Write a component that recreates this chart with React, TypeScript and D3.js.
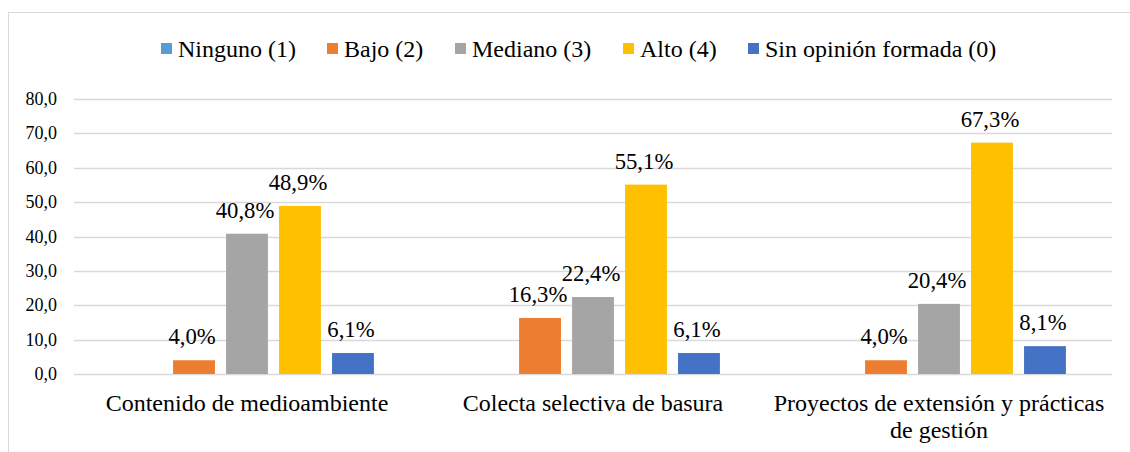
import * as d3 from 'd3'

const categories = [
    'Contenido de medioambiente',
    'Colecta selectiva de basura',
    'Proyectos de extensión y prácticas de gestión'
]
const seriesNames = ['Ninguno (1)', 'Bajo (2)', 'Mediano (3)', 'Alto (4)', 'Sin opinión formada (0)']
const seriesColors = ['#5B9BD5', '#ED7D31', '#A5A5A5', '#FFC000', '#4472C4']

// values per series, one per category
const ninguno = [0, 0, 0]
const bajo = [4.0, 16.3, 4.0]
const mediano = [40.8, 22.4, 20.4]
const alto = [48.9, 55.1, 67.3]
const sinOpinion = [6.1, 6.1, 8.1]
const seriesValues = [ninguno, bajo, mediano, alto, sinOpinion]

const yTicks = [0, 10, 20, 30, 40, 50, 60, 70, 80]

// category labels are split over lines as in the original
const categoryLines = [
    ['Contenido de medioambiente'],
    ['Colecta selectiva de basura'],
    ['Proyectos de extensión y prácticas', 'de gestión']
]

const W = 1130
const H = 452
const FONT = 'Times New Roman'
const margin = { left: 74, right: 18, top: 99, bottom: 78 }

const comma = (v: number) => d3.format('.1f')(v).replace('.', ',')

// legend text widths at 24px (Times metrics)
const legendWidths = [117, 79, 119, 76, 230]

const x0 = d3.scaleBand<string>()
    .domain(categories)
    .range([margin.left, W - margin.right])

const x1 = d3.scaleBand<string>()
    .domain(seriesNames)
    .range([0, x0.bandwidth()])
    .paddingInner(0.21)
    .paddingOuter(0.87)

const y = d3.scaleLinear()
    .domain([0, 80])
    .range([H - margin.bottom, margin.top])

const App = () => {
    let lx = 161
    const legendItems = seriesNames.map((name, si) => {
        const item = { name, color: seriesColors[si], x: lx }
        lx += 17 + legendWidths[si] + 32
        return item
    })

    return (
        <div style={{ fontFamily: FONT }}>
            <svg width={W} height={H} style={{ position: 'absolute', left: 0, top: 0, background: '#fff' }}>
                <rect x={8.5} y={12.5} width={W + 20} height={H + 20} fill='#fff' stroke='#D9D9D9' />

                {yTicks.map(t => (
                    <g key={t}>
                        <line x1={margin.left} x2={W - margin.right}
                            y1={Math.round(y(t)) + 0.5} y2={Math.round(y(t)) + 0.5}
                            stroke='#D9D9D9' strokeWidth={1.5} />
                        <text x={57} y={y(t) + 6} textAnchor='end' fontSize={18} style={{ fontFamily: FONT }}>{comma(t)}</text>
                    </g>
                ))}

                {seriesNames.map((name, si) => (
                    <g key={name}>
                        {seriesValues[si].map((v, i) => {
                            const bx = x0(categories[i])! + x1(name)!
                            return (
                                <g key={i}>
                                    <rect x={bx} y={y(v)} width={x1.bandwidth()} height={y(0) - y(v)} fill={seriesColors[si]} />
                                    {v > 0 &&
                                        <text x={bx + x1.bandwidth() / 2 - 2} y={y(v) - 16} textAnchor='middle'
                                            fontSize={22.7} style={{ fontFamily: FONT }}>{comma(v) + '%'}</text>
                                    }
                                </g>
                            )
                        })}
                    </g>
                ))}

                {categories.map((cat, ci) => {
                    const cx = x0(cat)! + x0.bandwidth() / 2
                    return (
                        <text key={cat} textAnchor='middle' fontSize={24} style={{ fontFamily: FONT }}>
                            {categoryLines[ci].map((l, li) => (
                                <tspan key={li} x={cx} y={411 + li * 27}>{l}</tspan>
                            ))}
                        </text>
                    )
                })}

                {legendItems.map(it => (
                    <g key={it.name}>
                        <rect x={it.x} y={43} width={11} height={11} fill={it.color} />
                        <text x={it.x + 17} y={57} fontSize={24} style={{ fontFamily: FONT }}>{it.name}</text>
                    </g>
                ))}
            </svg>
        </div>
    )
}

export default App
